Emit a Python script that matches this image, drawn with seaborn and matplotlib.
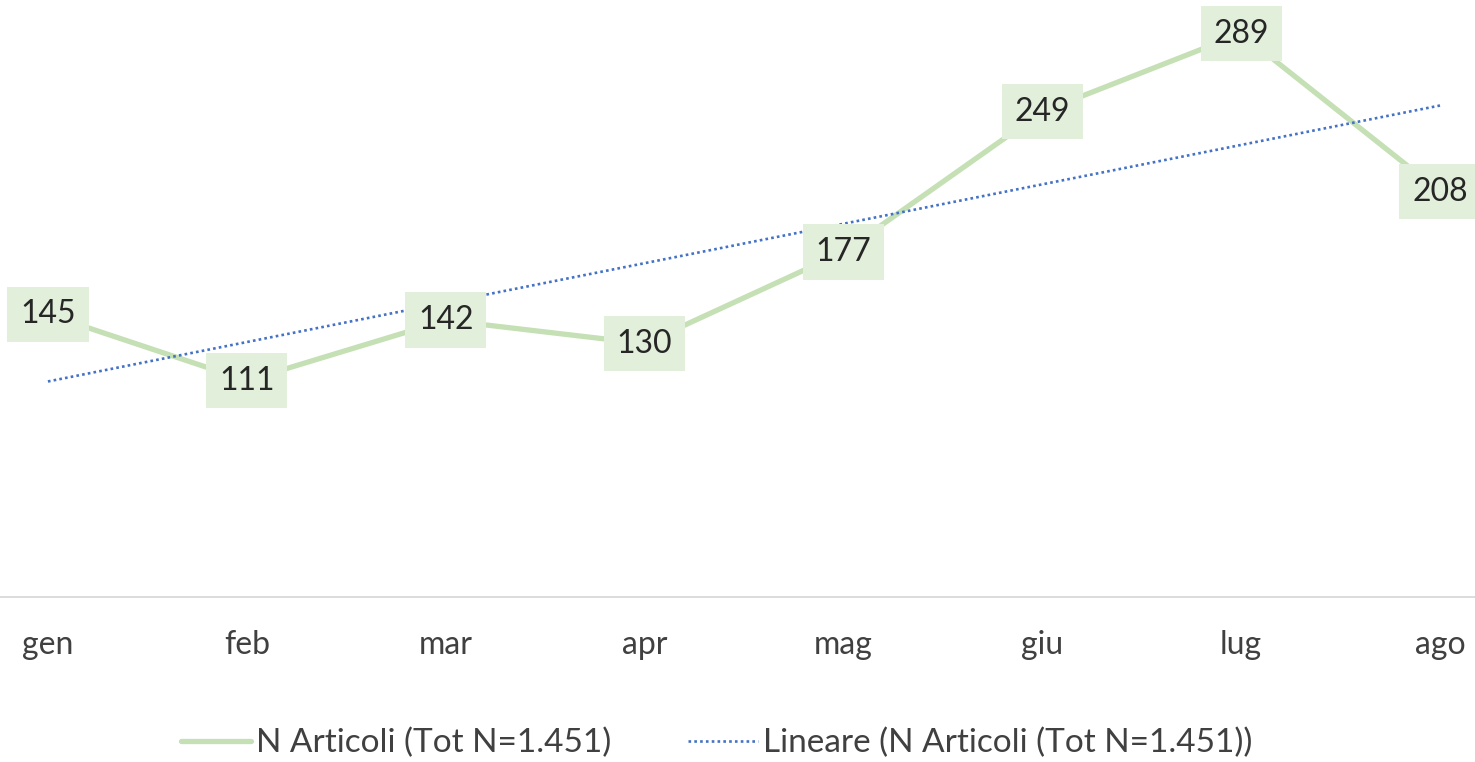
import matplotlib
matplotlib.use("Agg")
import matplotlib.pyplot as plt
from matplotlib.lines import Line2D
import seaborn as sns
import numpy as np
import pandas as pd

months = ["gen", "feb", "mar", "apr", "mag", "giu", "lug", "ago"]
n_articoli = [145, 111, 142, 130, 177, 249, 289, 208]
series_label = "N Articoli (Tot N=1.451)"
trend_label = "Lineare (N Articoli (Tot N=1.451))"

sns.set_theme(style="white")
plt.rcParams["font.family"] = ["Lato", "DejaVu Sans"]

df = pd.DataFrame({"pos": np.arange(len(months)), "month": months, "n": n_articoli})

fig = plt.figure(figsize=(14.75, 7.62), dpi=100)
ax = fig.add_axes([0.0, 1 - 597 / 762, 1.0, 597 / 762])

line_color = "#C5E0B4"
trend_color = "#4472C4"
trend_style = (0, (1, 1.2))

sns.lineplot(data=df, x="pos", y="n", ax=ax, color=line_color, linewidth=3.8,
             legend=False, zorder=2)
sns.regplot(data=df, x="pos", y="n", ax=ax, scatter=False, ci=None,
            line_kws=dict(color=trend_color, linestyle=trend_style, linewidth=1.9,
                          zorder=3))

for x, y in zip(df["pos"], df["n"]):
    ax.text(x, y, str(y), ha="center", va="center", fontsize=23, color="#262626",
            zorder=4,
            bbox=dict(boxstyle="square,pad=0.4", facecolor="#E2EFDA", edgecolor="none"))

ax.set_xlim(-0.241, 7.176)
ax.set_ylim(0, 306.3)
ax.set_xticks(df["pos"])
ax.set_xticklabels(months, fontsize=23, color="#404040")
ax.set_yticks([])
ax.set_xlabel("")
ax.set_ylabel("")
ax.tick_params(axis="x", length=0, pad=24)
for side in ["top", "left", "right"]:
    ax.spines[side].set_visible(False)
ax.spines["bottom"].set_color("#D9D9D9")
ax.spines["bottom"].set_linewidth(1.3)

handles = [
    Line2D([], [], color=line_color, linewidth=3.8),
    Line2D([], [], color=trend_color, linestyle=trend_style, linewidth=1.9),
]
ax.legend(handles, [series_label, trend_label], loc="center",
          bbox_to_anchor=(0.486, -0.245), ncol=2, frameon=False,
          fontsize=24, handlelength=2.1, handletextpad=0.15, columnspacing=2.3,
          labelcolor="#404040")

fig.savefig("out.png", dpi=100)
